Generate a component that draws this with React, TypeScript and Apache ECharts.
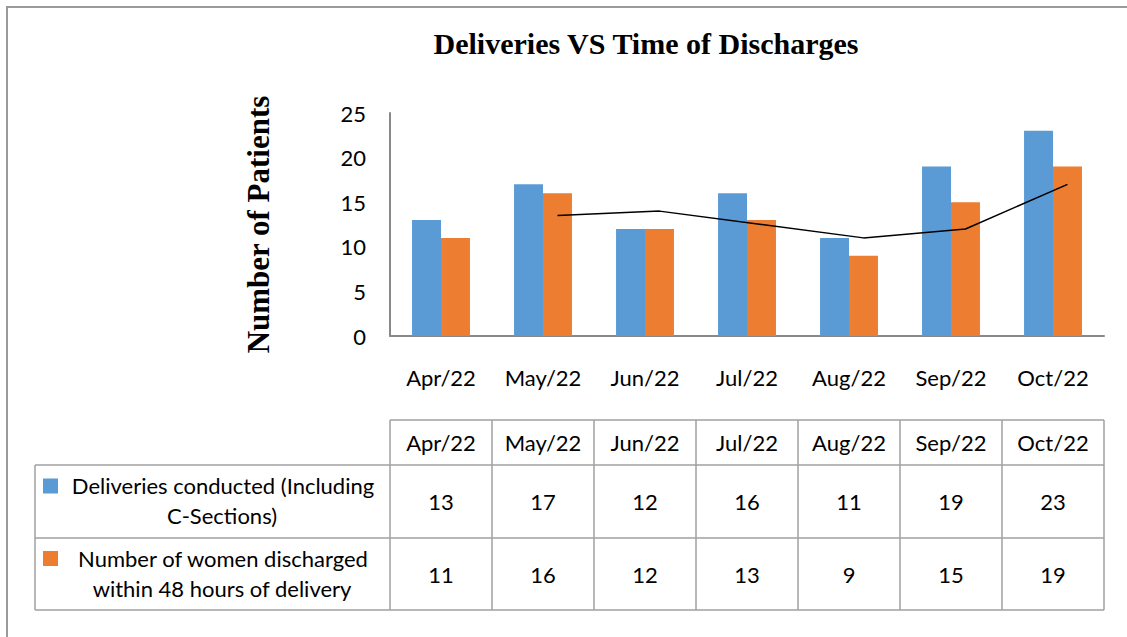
import React, { useEffect, useRef } from "react";
import * as echarts from "echarts";

const categories = ["Apr/22", "May/22", "Jun/22", "Jul/22", "Aug/22", "Sep/22", "Oct/22"];
const deliveries = [13, 17, 12, 16, 11, 19, 23];
const discharged = [11, 16, 12, 13, 9, 15, 19];
// 2-period moving average trendline
const trendValues: (number | null)[] = [null, 13.5, 14, 12.5, 11, 12, 17];
const seriesNames = [
  ["Deliveries conducted (Including", "C-Sections)"],
  ["Number of women discharged", "within 48 hours of delivery"],
];
const yTicks = { min: 0, max: 25, interval: 5 };

const W = 1127;
const H = 637;
const gridLeft = 390;
const gridRight = 1104;
const gridTop = 113;
const gridBottom = 336;
const BLUE = "#5B9BD5";
const ORANGE = "#ED7D31";
const SANS = "Lato, 'Noto Sans', sans-serif";
const SERIF = "'Liberation Serif', 'DejaVu Serif', serif";
const BAR_FRAC = 0.284;
const FS = 22;

export default function App() {
  const ref = useRef<HTMLDivElement>(null);
  useEffect(() => {
    if (!ref.current) return;
    const chart = echarts.init(ref.current, undefined, { renderer: "svg" });
    const colW = (gridRight - gridLeft) / categories.length;
    const tLeft = 35;
    const rowY = [420, 465, 538, 610];
    const lineColor = "#a0a0a0";
    const graphics: any[] = [];
    graphics.push({
      type: "rect",
      shape: { x: 7, y: 7, width: W + 20, height: H + 20 },
      style: { fill: "none", stroke: "#9a9a9a", lineWidth: 2 },
      silent: true,
    });
    graphics.push({ type: "line", shape: { x1: gridLeft, y1: rowY[0], x2: gridRight, y2: rowY[0] }, style: { stroke: lineColor, lineWidth: 1.5 } });
    for (let r = 1; r < rowY.length; r++) {
      graphics.push({ type: "line", shape: { x1: tLeft, y1: rowY[r], x2: gridRight, y2: rowY[r] }, style: { stroke: lineColor, lineWidth: 1.5 } });
    }
    graphics.push({ type: "line", shape: { x1: tLeft, y1: rowY[1], x2: tLeft, y2: rowY[3] }, style: { stroke: lineColor, lineWidth: 1.5 } });
    for (let c = 0; c <= categories.length; c++) {
      const x = gridLeft + c * colW;
      graphics.push({ type: "line", shape: { x1: x, y1: rowY[0], x2: x, y2: rowY[3] }, style: { stroke: lineColor, lineWidth: 1.5 } });
    }
    const txt = (text: string, x: number, y: number) => ({
      type: "text",
      x,
      y,
      style: { text, fill: "#000", font: `${FS}px ${SANS}`, align: "center", verticalAlign: "middle" },
    });
    categories.forEach((c, i) => {
      const cx = gridLeft + (i + 0.5) * colW;
      graphics.push(txt(c, cx, (rowY[0] + rowY[1]) / 2));
      graphics.push(txt(String(deliveries[i]), cx, (rowY[1] + rowY[2]) / 2));
      graphics.push(txt(String(discharged[i]), cx, (rowY[2] + rowY[3]) / 2));
    });
    const colors = [BLUE, ORANGE];
    seriesNames.forEach((lines, r) => {
      const top = rowY[r + 1];
      const bottom = rowY[r + 2];
      const mid = (top + bottom) / 2;
      graphics.push({
        type: "rect",
        shape: { x: 43, y: mid - 23, width: 15, height: 15 },
        style: { fill: colors[r] },
      });
      graphics.push(txt(lines[0], 223, mid - 16));
      graphics.push(txt(lines[1], 222, mid + 14));
    });

    const offset = BAR_FRAC / 2;
    chart.setOption({
      animation: false,
      title: {
        text: "Deliveries VS Time of Discharges",
        left: 641,
        top: 23,
        textAlign: "center",
        textStyle: { fontFamily: SERIF, fontWeight: "bold", fontSize: 30, color: "#000" },
      },
      grid: { left: gridLeft, right: W - gridRight, top: gridTop, bottom: H - gridBottom },
      xAxis: [
        {
          type: "category",
          data: categories,
          axisLine: { lineStyle: { color: "#898989", width: 2 } },
          axisTick: { show: false },
          axisLabel: { color: "#000", fontSize: FS, fontFamily: SANS, margin: 30 },
        },
        { type: "value", min: 0, max: categories.length, show: false },
      ],
      yAxis: {
        type: "value",
        min: yTicks.min,
        max: yTicks.max,
        interval: yTicks.interval,
        name: "Number of Patients",
        nameLocation: "middle",
        nameRotate: 90,
        nameGap: 116,
        nameTextStyle: { fontFamily: SERIF, fontWeight: "bold", fontSize: 31, color: "#000" },
        axisLine: { show: true, lineStyle: { color: "#898989", width: 2 } },
        axisTick: { show: false },
        splitLine: { show: false },
        axisLabel: { color: "#000", fontSize: FS, fontFamily: SANS, margin: 24 },
      },
      series: [
        { type: "bar", data: deliveries, barWidth: `${BAR_FRAC * 100}%`, barGap: "0%", itemStyle: { color: BLUE } },
        { type: "bar", data: discharged, barWidth: `${BAR_FRAC * 100}%`, barGap: "0%", itemStyle: { color: ORANGE } },
        {
          type: "line",
          xAxisIndex: 1,
          data: trendValues
            .map((v, i) => (v == null ? null : [i + 0.5 + offset, v]))
            .filter((d) => d !== null),
          symbol: "none",
          lineStyle: { color: "#000", width: 1.5 },
        },
      ],
      graphic: graphics,
    });
    return () => chart.dispose();
  }, []);
  return <div ref={ref} style={{ position: "absolute", left: 0, top: 0, width: W, height: H, background: "#fff" }} />;
}
